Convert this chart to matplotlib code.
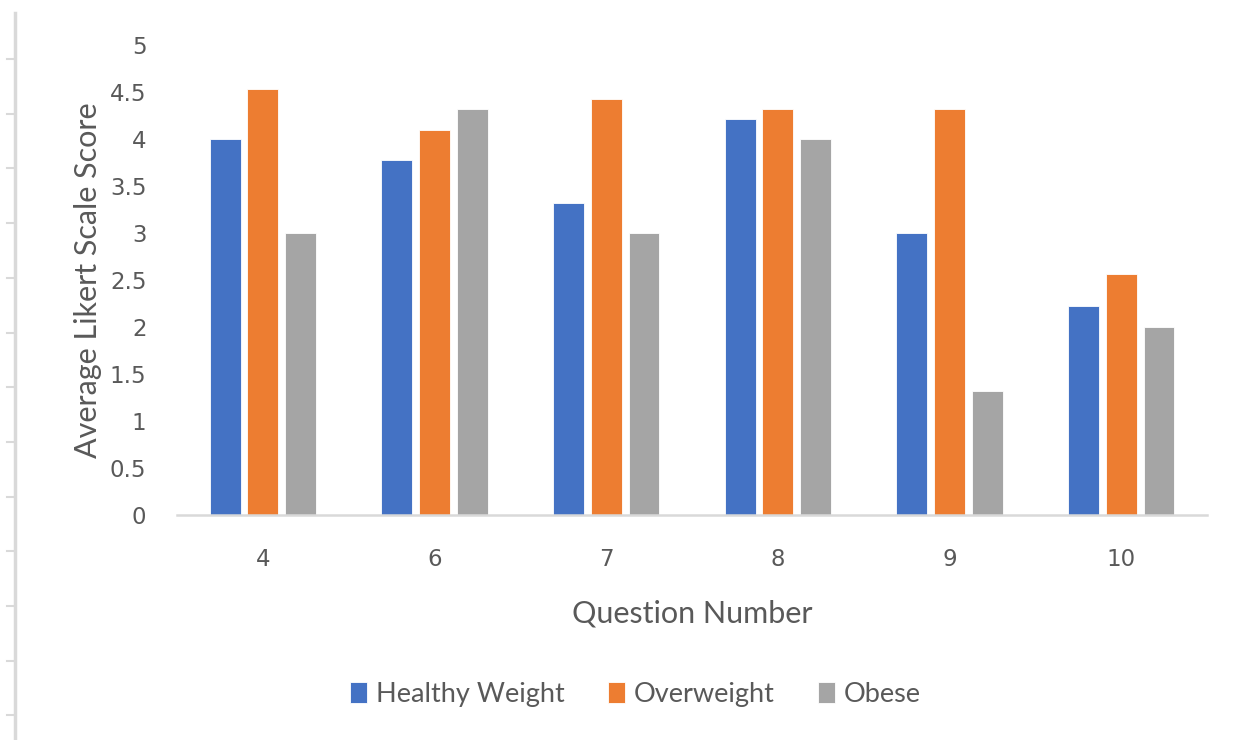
import numpy as np
import matplotlib.pyplot as plt
from matplotlib.lines import Line2D

# question numbers and average scores per weight group
questions = ["4", "6", "7", "8", "9", "10"]
healthy = [4.0, 3.78, 3.32, 4.21, 3.0, 2.22]
overweight = [4.53, 4.1, 4.43, 4.32, 4.32, 2.56]
obese = [3.0, 4.32, 3.0, 4.0, 1.32, 2.0]
groups = ["Healthy Weight", "Overweight", "Obese"]
colors = ["#4472C4", "#ED7D31", "#A5A5A5"]

plt.rcParams['font.family'] = ['Lato', 'DejaVu Sans']
txt = "#595959"

fig = plt.figure(figsize=(12.38, 7.4), dpi=100)
ax = fig.add_axes([0.143, 0.304, 0.832, 0.635])

x = np.arange(len(questions))
w = 0.18
step = 0.22
for i, (vals, name) in enumerate(zip([healthy, overweight, obese], groups)):
    ax.bar(x + (i - 1) * step, vals, w, color=colors[i], label=name,
           edgecolor="white", linewidth=0.6)

ax.set_xlim(-0.5, len(questions) - 0.5)
ax.set_ylim(0, 5)
ax.set_yticks(np.arange(0, 5.01, 0.5))
ax.set_yticklabels(["0", "0.5", "1", "1.5", "2", "2.5", "3", "3.5", "4", "4.5", "5"])
ax.set_xticks(x)
ax.set_xticklabels(questions)
ax.tick_params(axis="both", length=0, labelsize=16.5, labelcolor=txt)
ax.tick_params(axis="y", pad=22)
ax.tick_params(axis="x", pad=24)
for lab in ax.get_xticklabels() + ax.get_yticklabels():
    lab.set_family("DejaVu Sans")

for s in ["top", "right", "left"]:
    ax.spines[s].set_visible(False)
ax.spines["bottom"].set_color("#D9D9D9")
ax.spines["bottom"].set_linewidth(1.8)

ax.set_ylabel("Average Likert Scale Score", fontsize=22, color=txt, labelpad=6)
ax.set_xlabel("Question Number", fontsize=22, color=txt, labelpad=20)

leg = fig.legend(loc="center", bbox_to_anchor=(0.513, 0.062), ncol=3, frameon=False,
                 fontsize=19.5, handlelength=0.65, handleheight=0.8, handletextpad=0.3,
                 columnspacing=1.6, labelcolor=txt)

# left edge ruler of the original screenshot
fig.add_artist(Line2D([15 / 1238, 15 / 1238], [0, 1 - 13 / 740], color="#D9D9D9", lw=2.5))
for yy in np.arange(59, 740, 54.7):
    fig.add_artist(Line2D([7 / 1238, 15 / 1238], [1 - yy / 740, 1 - yy / 740],
                          color="#D9D9D9", lw=1.5))

fig.savefig("out.png", dpi=100)
